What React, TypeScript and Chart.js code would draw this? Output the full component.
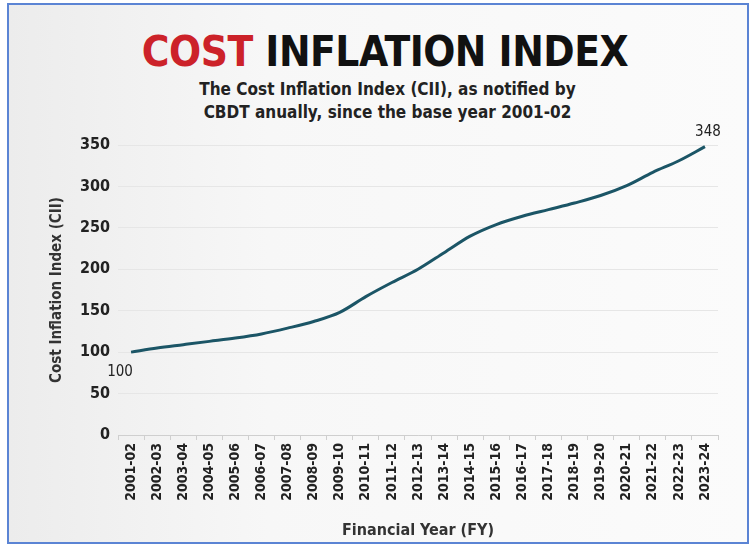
import React, { useEffect, useRef } from "react";
import { Chart, registerables } from "chart.js";

Chart.register(...registerables);

const years = [
  "2001-02", "2002-03", "2003-04", "2004-05", "2005-06", "2006-07", "2007-08", "2008-09",
  "2009-10", "2010-11", "2011-12", "2012-13", "2013-14", "2014-15", "2015-16", "2016-17",
  "2017-18", "2018-19", "2019-20", "2020-21", "2021-22", "2022-23", "2023-24",
];
const ciiValues = [100, 105, 109, 113, 117, 122, 129, 137, 148, 167, 184, 200, 220, 240, 254, 264, 272, 280, 289, 301, 317, 331, 348];
const yTicks = [0, 50, 100, 150, 200, 250, 300, 350];

const FONT = "'DejaVu Sans Condensed', 'Liberation Sans Narrow', sans-serif";

const endLabels = {
  id: "endLabels",
  afterDatasetsDraw(chart: any) {
    const { ctx } = chart;
    const meta = chart.getDatasetMeta(0);
    const first = meta.data[0];
    const last = meta.data[meta.data.length - 1];
    ctx.save();
    ctx.fillStyle = "#222";
    ctx.font = `15px ${FONT}`;
    ctx.textAlign = "center";
    ctx.textBaseline = "middle";
    ctx.fillText(String(ciiValues[0]), first.x - 11, first.y + 20);
    ctx.fillText(String(ciiValues[ciiValues.length - 1]), last.x + 3, last.y - 15);
    ctx.restore();
  },
};

export default function App() {
  const ref = useRef<HTMLCanvasElement>(null);
  useEffect(() => {
    if (!ref.current) return;
    const chart = new Chart(ref.current, {
      type: "line",
      data: {
        labels: years,
        datasets: [
          {
            data: ciiValues,
            borderColor: "#1b5566",
            borderWidth: 3,
            pointRadius: 0,
            cubicInterpolationMode: "monotone",
            fill: false,
          },
        ],
      },
      options: {
        animation: false,
        responsive: false,
        maintainAspectRatio: false,
        layout: { padding: { left: 38, right: 27, top: 25, bottom: 0 } },
        plugins: { legend: { display: false }, tooltip: { enabled: false }, title: { display: false } },
        scales: {
          x: {
            offset: true,
            grid: { display: true, drawOnChartArea: false, offset: true, tickLength: 5, color: "#cfcfcf" },
            border: { display: true, color: "#cfcfcf" },
            ticks: {
              minRotation: 90,
              maxRotation: 90,
              autoSkip: false,
              padding: 3,
              color: "#222",
              font: { family: FONT, size: 14, weight: "bold" },
            },
            title: {
              display: true,
              text: "Financial Year (FY)",
              color: "#333",
              font: { family: FONT, size: 16, weight: "bold" },
              padding: { top: 4, bottom: 0 },
            },
            afterFit: (s: any) => { s.height = 105; },
          },
          y: {
            min: 0,
            max: 350,
            afterBuildTicks: (s: any) => { s.ticks = yTicks.map((v) => ({ value: v })); },
            grid: { color: "#e6e6e6", drawTicks: false },
            border: { display: false },
            ticks: {
              padding: 8,
              color: "#222",
              font: { family: FONT, size: 16, weight: "bold" },
            },
            title: {
              display: true,
              text: "Cost Inflation Index (CII)",
              color: "#333",
              font: { family: FONT, size: 15, weight: "bold" },
              padding: { top: 0, bottom: 0 },
            },
            afterFit: (s: any) => { s.width = 70; },
          },
        },
      },
      plugins: [endLabels],
    });
    return () => chart.destroy();
  }, []);

  return (
    <div style={{ position: "absolute", left: 0, top: 0, width: 753, height: 547, background: "#fff", overflow: "hidden" }}>
      <div
        style={{
          position: "absolute",
          left: 7,
          top: 3,
          width: 738,
          height: 537,
          border: "2px solid #5b84d4",
          background: "linear-gradient(90deg, #ececec 0%, #f7f7f7 35%, #fbfbfb 100%)",
        }}
      />
      <div
        style={{
          position: "absolute",
          left: 0,
          width: 770,
          top: 27,
          textAlign: "center",
          fontFamily: FONT,
          fontWeight: "bold",
          fontSize: 42,
          lineHeight: "50px",
          color: "#111",
          letterSpacing: -0.5,
        }}
      >
        <span style={{ color: "#cc2229" }}>COST</span> INFLATION INDEX
      </div>
      <div
        style={{
          position: "absolute",
          left: 0,
          width: 775,
          top: 78,
          textAlign: "center",
          fontFamily: FONT,
          fontWeight: "bold",
          fontSize: 17,
          lineHeight: "23px",
          color: "#222",
        }}
      >
        The Cost Inflation Index (CII), as notified by
        <br />
        CBDT anually, since the base year 2001-02
      </div>
      <canvas ref={ref} width={735} height={420} style={{ position: "absolute", left: 10, top: 120 }} />
    </div>
  );
}
